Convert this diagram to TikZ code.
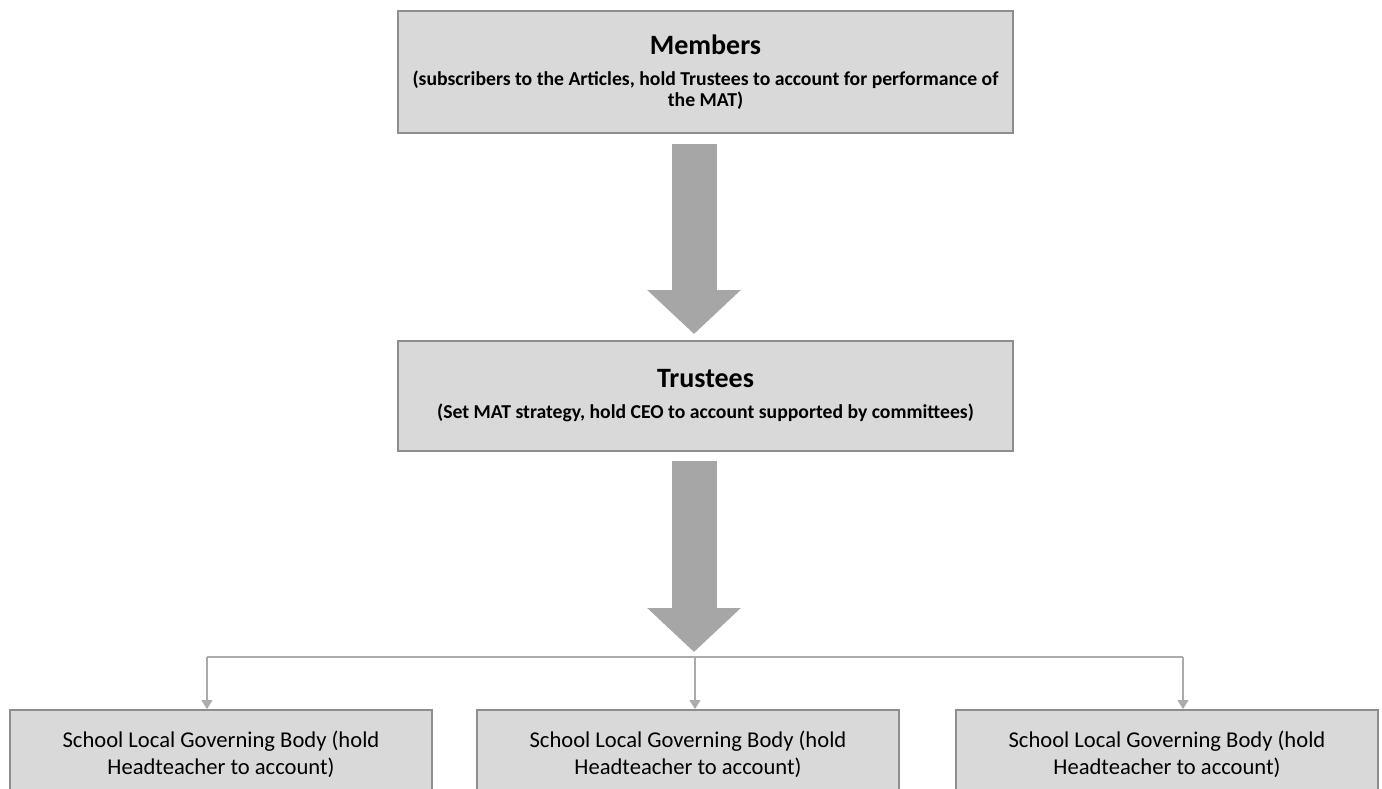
\documentclass[tikz,border=0pt]{standalone}
\usepackage{fontspec}
\setmainfont{Carlito}
\usepackage{tikz}
\usetikzlibrary{positioning, arrows.meta}

\definecolor{boxfill}{HTML}{D9D9D9}
\definecolor{boxline}{HTML}{8E8E8E}
\definecolor{arrowgray}{HTML}{A6A6A6}
\definecolor{linkgray}{HTML}{ABABAB}

\tikzset{
  orgbox/.style={draw=boxline, fill=boxfill, line width=2pt, align=center, inner sep=4pt},
  headtext/.style={font=\fontsize{19.7}{21}\selectfont\bfseries},
  bigarrow/.style={draw=arrowgray, line width=45pt, -{Triangle[width=91pt,length=44pt]}},
  linkline/.style={draw=linkgray, line width=1.6pt},
  link/.style={linkline, -{Triangle[width=11pt,length=9pt]}},
}

\begin{document}
\begin{tikzpicture}[x=1pt, y=-1pt]
\useasboundingbox (0,0) rectangle (1382,789);

% --- members and trustees ---
\node[orgbox, headtext, minimum width=615pt, minimum height=122pt] (members) at (705.5,72)
  {{\fontsize{28}{30}\selectfont Members}\\[10pt](subscribers to the Articles, hold Trustees to account for performance of\\the MAT)};
\node[orgbox, headtext, minimum width=615pt, minimum height=110pt] (trustees) at (705.5,396)
  {{\fontsize{28}{30}\selectfont Trustees}\\[10pt](Set MAT strategy, hold CEO to account supported by committees)};

\coordinate (spine) at (694,0);
\coordinate (hub) at (695,657);
\draw[bigarrow, shorten <=10pt, shorten >=6pt] (spine |- members.south) -- (spine |- trustees.north);
\draw[bigarrow, shorten <=9pt, shorten >=5pt] (spine |- trustees.south) -- (spine |- hub);

% --- local governing bodies ---
\foreach \i/\x/\d in {1/221/207, 2/688/695, 3/1167/1183}{
  \node[orgbox, anchor=north, minimum width=422pt, minimum height=88pt,
        font=\fontsize{22.6}{27}\selectfont] (gov\i) at (\x,709)
    {School Local Governing Body (hold\\Headteacher to account)};
  \coordinate (drop\i) at (\d,657);
  \draw[link] (drop\i) -- (drop\i |- gov\i.north);
}
\draw[linkline] (drop1) -- (drop3);
\end{tikzpicture}
\end{document}
